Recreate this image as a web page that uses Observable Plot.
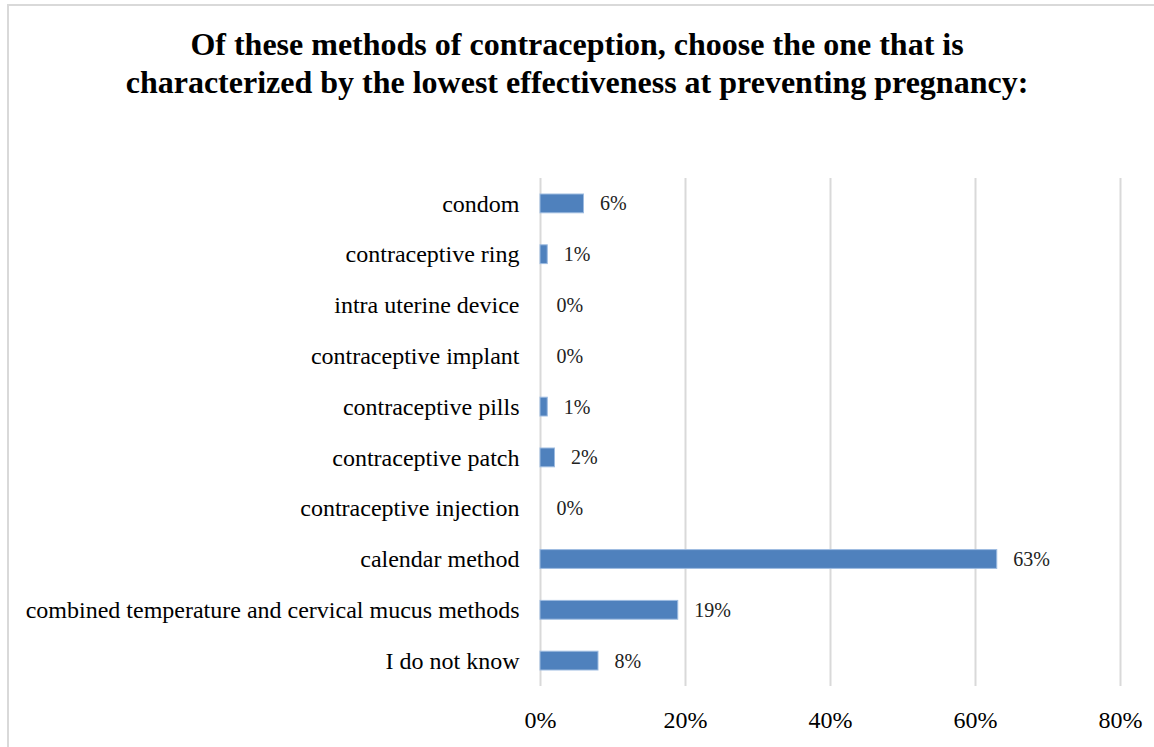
<!DOCTYPE html>
<html>
<head>
<meta charset="utf-8">
<script src="https://cdn.jsdelivr.net/npm/d3@7"></script>
<script src="https://cdn.jsdelivr.net/npm/@observablehq/plot@0.6"></script>
<style>
  html, body { margin: 0; padding: 0; background: #fff; overflow: hidden; }
  #wrap { position: relative; width: 1154px; height: 747px; }
  #frame { position: absolute; left: 7px; top: 4px; width: 1160px; height: 760px;
           border-top: 2px solid #d9d9d9; border-left: 2px solid #d9d9d9; }
  #title { position: absolute; left: 0; top: 25px; width: 1154px; text-align: center;
           font-family: "Liberation Serif", "Times New Roman", serif; font-weight: bold;
           font-size: 32px; line-height: 38px; color: #000; }
  #chart { position: absolute; left: 0; top: 150px; }
</style>
</head>
<body>
<div id="wrap">
  <div id="frame"></div>
  <div id="title">Of these methods of contraception, choose the one that is<br>characterized by the lowest effectiveness at preventing pregnancy:</div>
  <div id="chart"></div>
</div>
<script>
const categories = [
  "condom",
  "contraceptive ring",
  "intra uterine device",
  "contraceptive implant",
  "contraceptive pills",
  "contraceptive patch",
  "contraceptive injection",
  "calendar method",
  "combined temperature and cervical mucus methods",
  "I do not know"
];
const values = [6, 1, 0, 0, 1, 2, 0, 63, 19, 8];
const xTicks = [0, 20, 40, 60, 80];

const data = categories.map((c, i) => ({category: c, value: values[i]}));

const plot = Plot.plot({
  width: 1154,
  height: 597,
  marginTop: 28,
  marginBottom: 61,
  marginLeft: 540,
  marginRight: 34,
  style: { fontFamily: "'Liberation Serif', 'Times New Roman', serif", background: "transparent", color: "#000" },
  x: { domain: [0, 80], ticks: xTicks, tickFormat: d => d + "%" },
  y: { domain: categories, padding: 0.63, paddingOuter: 0.315, align: 0.5, round: false },
  marks: [
    Plot.gridX(xTicks, { stroke: "#d9d9d9", strokeOpacity: 1, strokeWidth: 2 }),
    Plot.barX(data, { x: "value", y: "category", fill: "#4f81bd", stroke: "#9dbbe0", strokeWidth: 1 }),
    Plot.text(data, { x: "value", y: "category", text: d => d.value + "%", textAnchor: "start", dx: 16, fontSize: 20, fill: "#222" }),
    Plot.axisX({ ticks: xTicks, tickFormat: d => d + "%", tickSize: 0, tickPadding: 24, fontSize: 24, label: null }),
    Plot.axisY({ tickSize: 0, tickPadding: 21, fontSize: 24, label: null })
  ]
});
document.getElementById("chart").appendChild(plot);
</script>
</body>
</html>
